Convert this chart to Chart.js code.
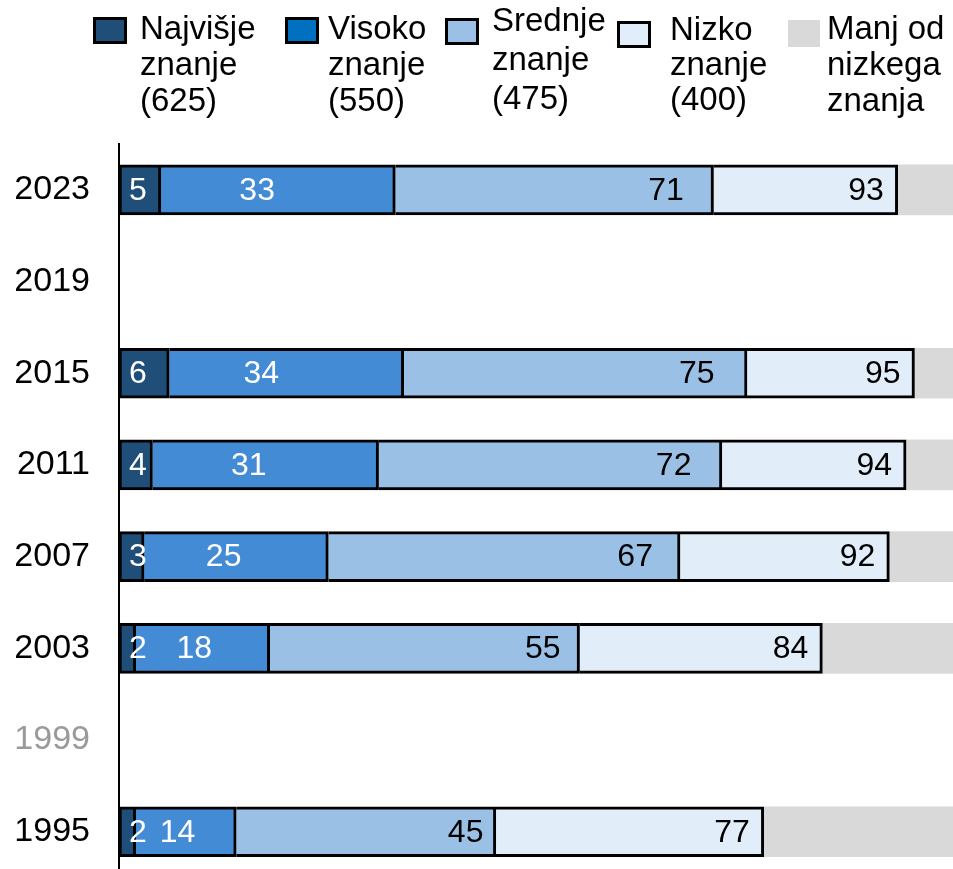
<!DOCTYPE html>
<html>
<head>
<meta charset="utf-8">
<script src="https://cdn.jsdelivr.net/npm/chart.js@4/dist/chart.umd.min.js"></script>
<style>
  html, body { margin: 0; padding: 0; background: #fff; overflow: hidden; }
  #wrap { position: relative; width: 953px; height: 869px; overflow: hidden; font-family: "Liberation Sans", Arial, sans-serif; }
  #chart { position: absolute; left: 0; top: 0; }
  .lg-box { position: absolute; width: 28px; height: 21px; border: 3px solid #000; }
  .lg-text { position: absolute; font-size: 33px; line-height: 36px; color: #000; white-space: nowrap; }
</style>
</head>
<body>
<div id="wrap">
  <canvas id="chart" width="953" height="927"></canvas>
  <div id="legend"></div>
</div>
<script>
// categories (top to bottom)
const years = ['2023', '2019', '2015', '2011', '2007', '2003', '1999', '1995'];

// cumulative percentages shown in the labels
const najvisje = [5, null, 6, 4, 3, 2, null, 2];
const visoko   = [33, null, 34, 31, 25, 18, null, 14];
const srednje  = [71, null, 75, 72, 67, 55, null, 45];
const nizko    = [93, null, 95, 94, 92, 84, null, 77];

const seriesNames = [
  ['Najvišje', 'znanje', '(625)'],
  ['Visoko', 'znanje', '(550)'],
  ['Srednje', 'znanje', '(475)'],
  ['Nizko', 'znanje', '(400)'],
  ['Manj od', 'nizkega', 'znanja']
];

const barColors = ['#1F4E79', '#448BD6', '#9BC0E6', '#E1EDF8', '#D9D9D9'];
const legendColors = ['#1F4E79', '#0070C0', '#9BC0E6', '#E1EDF8', '#D9D9D9'];

// segment sizes from the cumulative values
function diff(a, b) {
  return a.map((v, i) => (v == null ? null : v - (b ? b[i] : 0)));
}
const segments = [
  diff(najvisje),
  diff(visoko, najvisje),
  diff(srednje, visoko),
  diff(nizko, srednje),
  nizko.map(v => (v == null ? null : 100 - v))
];
const cumulative = [najvisje, visoko, srednje, nizko];

// HTML legend (multi-line labels)
const legendPos = [
  { bx: 93,  by: 17, tx: 140, ty: 10, lh: 36 },
  { bx: 285, by: 17, tx: 328, ty: 10, lh: 36 },
  { bx: 445, by: 18, tx: 492, ty: 0,  lh: 39 },
  { bx: 617, by: 21, tx: 670, ty: 11, lh: 35 },
  { bx: 788, by: 20, tx: 827, ty: 10, lh: 36 }
];
const legendEl = document.getElementById('legend');
seriesNames.forEach((lines, i) => {
  const p = legendPos[i];
  const box = document.createElement('div');
  box.className = 'lg-box';
  box.style.left = p.bx + 'px';
  box.style.top = p.by + 'px';
  box.style.background = legendColors[i];
  if (i === 4) { box.style.border = 'none'; box.style.width = '32px'; box.style.height = '27px'; }
  legendEl.appendChild(box);
  const txt = document.createElement('div');
  txt.className = 'lg-text';
  txt.style.left = p.tx + 'px';
  txt.style.top = p.ty + 'px';
  txt.style.lineHeight = p.lh + 'px';
  txt.innerHTML = lines.join('<br>');
  legendEl.appendChild(txt);
});

// value labels (cumulative numbers)
const valueLabels = {
  id: 'valueLabels',
  afterDatasetsDraw(chart) {
    const ctx = chart.ctx;
    const xs = chart.scales.x;
    ctx.save();
    ctx.font = '32px "Liberation Sans", Arial, sans-serif';
    ctx.textBaseline = 'middle';
    cumulative.forEach((vals, di) => {
      const meta = chart.getDatasetMeta(di);
      meta.data.forEach((bar, i) => {
        const v = vals[i];
        if (v == null) return;
        const y = bar.y + 1;
        if (di === 0) {
          ctx.fillStyle = '#fff';
          ctx.textAlign = 'left';
          ctx.fillText(v, xs.getPixelForValue(0) + 10, y);
        } else if (di === 1) {
          ctx.fillStyle = '#fff';
          ctx.textAlign = 'center';
          ctx.fillText(v, xs.getPixelForValue(v / 2), y);
        } else if (di === 2) {
          ctx.fillStyle = '#000';
          ctx.textAlign = 'center';
          ctx.fillText(v, xs.getPixelForValue(v * 0.92), y);
        } else {
          ctx.fillStyle = '#000';
          ctx.textAlign = 'right';
          ctx.fillText(v, xs.getPixelForValue(v) - 14, y);
        }
      });
    });
    ctx.restore();
  }
};

const datasets = segments.map((data, i) => ({
  label: seriesNames[i].join(' '),
  data: data,
  backgroundColor: barColors[i],
  borderColor: '#000',
  borderWidth: i === 4 ? 0 : (i === 0 ? { top: 3, bottom: 3, left: 3, right: 3 } : { top: 3, bottom: 3, left: 0, right: 3 }),
  borderSkipped: false,
  barThickness: 50
}));

new Chart(document.getElementById('chart'), {
  type: 'bar',
  data: { labels: years, datasets: datasets },
  options: {
    indexAxis: 'y',
    responsive: false,
    animation: false,
    layout: { padding: { top: 144, left: 16, right: 0, bottom: 2 } },
    plugins: {
      legend: { display: false },
      tooltip: { enabled: false }
    },
    scales: {
      x: {
        stacked: true,
        min: 0,
        max: 99.6,
        display: false
      },
      y: {
        stacked: true,
        grid: { display: false, drawTicks: false },
        border: { display: true, color: '#000', width: 2 },
        ticks: {
          padding: 29,
          font: { family: '"Liberation Sans", Arial, sans-serif', size: 34 },
          color: ctx => (ctx.tick && ctx.tick.label === '1999' ? '#9A9A9A' : '#000')
        },
        afterFit(scale) { scale.width = 103; }
      }
    }
  },
  plugins: [valueLabels]
});
</script>
</body>
</html>
